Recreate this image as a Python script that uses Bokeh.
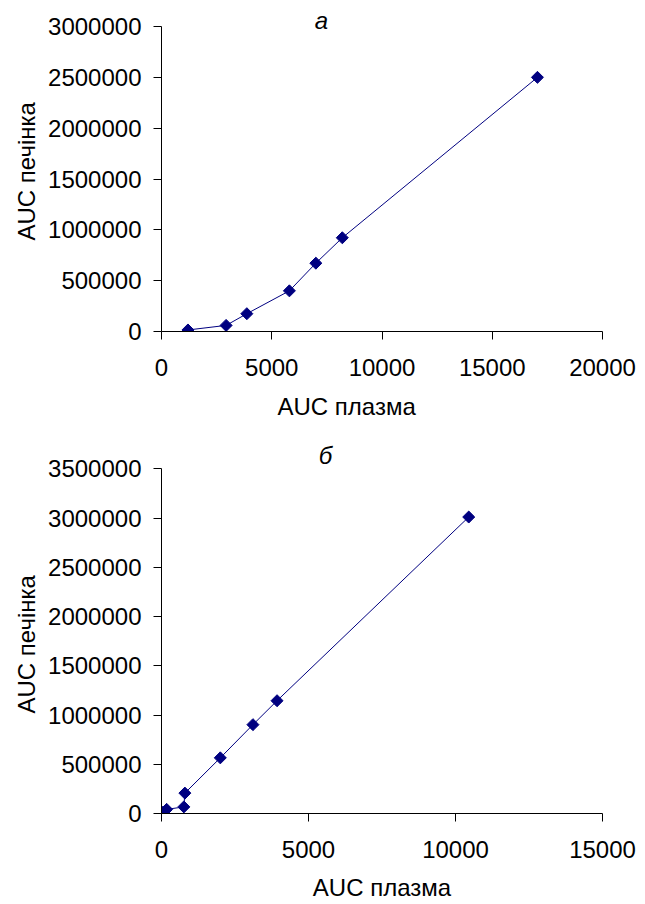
from bokeh.plotting import figure
from bokeh.layouts import column
from bokeh.models import FixedTicker, Label, Range1d, BasicTickFormatter, Title
from bokeh.embed import file_html
from bokeh.resources import INLINE

# ---- Panel а ----
a_plasma = [1200, 2930, 3870, 5800, 7000, 8200, 17050]
a_liver = [15000, 60000, 175000, 400000, 672000, 922000, 2500000]
a_xticks = [0, 5000, 10000, 15000, 20000]
a_yticks = [0, 500000, 1000000, 1500000, 2000000, 2500000, 3000000]

# ---- Panel б ----
b_plasma = [10, 175, 760, 795, 2000, 3110, 3930, 10450]
b_liver = [15000, 42000, 67000, 207000, 565000, 902000, 1145000, 3010000]
b_xticks = [0, 5000, 10000, 15000]
b_yticks = [0, 500000, 1000000, 1500000, 2000000, 2500000, 3000000, 3500000]

x_title = "AUC плазма"
y_title = "AUC печінка"
panel_titles = ["а", "б"]

FONT = "Liberation Sans"
FS = "24px"
NAVY = "#000080"


def make_panel(xs, ys, xticks, yticks, title, height, borders, y_top_room,
               title_pos, xlab, ylab_offset):
    left, right, top, bottom = borders
    # frame extends above the last y tick so the panel letter can sit there
    p = figure(width=645, height=height,
               x_range=Range1d(xticks[0], xticks[-1]),
               y_range=Range1d(yticks[0], yticks[-1] * y_top_room),
               output_backend="svg", toolbar_location=None,
               min_border_left=left, min_border_right=right,
               min_border_top=top, min_border_bottom=bottom)
    p.outline_line_color = None
    p.background_fill_color = "white"
    p.border_fill_color = "white"
    p.xgrid.visible = False
    p.ygrid.visible = False

    for ax, ticks in ((p.xaxis[0], xticks), (p.yaxis[0], yticks)):
        ax.ticker = FixedTicker(ticks=ticks)
        ax.formatter = BasicTickFormatter(use_scientific=False)
        ax.bounds = (ticks[0], ticks[-1])
        ax.minor_tick_line_color = None
        ax.major_tick_in = 0
        ax.major_tick_out = 8
        ax.axis_line_color = "black"
        ax.major_tick_line_color = "black"
        ax.major_label_text_font = FONT
        ax.major_label_text_font_size = FS
        ax.major_label_text_color = "black"
    p.xaxis.major_label_standoff = 19
    p.yaxis.major_label_standoff = 12

    p.add_layout(Title(text=y_title, align="left", offset=ylab_offset,
                       text_font=FONT, text_font_size=FS, text_font_style="normal",
                       text_color="black", standoff=12), "left")

    mode, xoff, xstand = xlab
    if mode == "axis":
        p.xaxis.axis_label = x_title
        p.xaxis.axis_label_text_font = FONT
        p.xaxis.axis_label_text_font_size = FS
        p.xaxis.axis_label_text_font_style = "normal"
        p.xaxis.axis_label_text_color = "black"
        p.xaxis.axis_label_standoff = xstand
    else:
        p.add_layout(Title(text=x_title, align="left", offset=xoff,
                           text_font=FONT, text_font_size=FS, text_font_style="normal",
                           text_color="black", standoff=xstand), "below")

    p.line(xs, ys, line_color=NAVY, line_width=1)
    p.scatter(xs, ys, marker="square", size=8.5, angle=0.785398,
              fill_color=NAVY, line_color=NAVY)

    p.add_layout(Label(x=title_pos[0], y=title_pos[1], x_units="screen", y_units="screen",
                       text=title, text_font=FONT, text_font_size=FS, text_font_style="italic",
                       text_align="center", text_baseline="middle", text_color="black"))
    return p


pa = make_panel(a_plasma, a_liver, a_xticks, a_yticks, panel_titles[0], 434,
                (161, 38, 0, 103), 1.0853, (160, 311), ("title", 116, 25), 91)
pb = make_panel(b_plasma, b_liver, b_xticks, b_yticks, panel_titles[1], 470,
                (157, 43, 0, 91), 1.0994, (164, 358), ("axis", 0, 13), 100)

layout = column(pa, pb, spacing=0)
open("out.html", "w").write(file_html(layout, INLINE))
